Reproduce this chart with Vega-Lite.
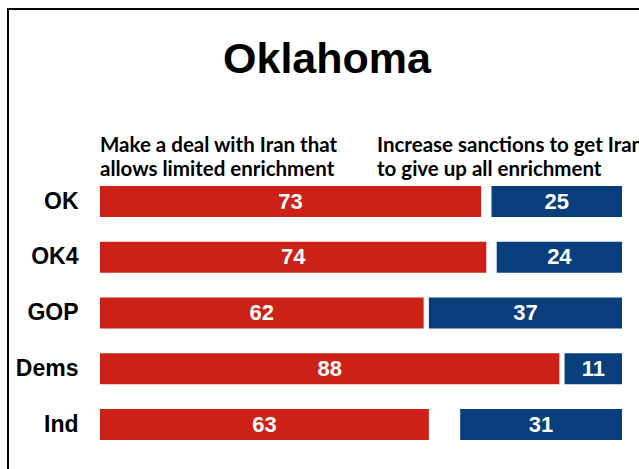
{
  "$schema": "https://vega.github.io/schema/vega-lite/v6.json",
  "width": 638,
  "height": 470,
  "autosize": {"type": "none"},
  "padding": {"left": 8, "top": 9, "right": 0, "bottom": 0},
  "background": "white",
  "config": {"view": {"stroke": "black", "strokeWidth": 2}},
  "title": {
    "text": "Oklahoma",
    "font": "Liberation Sans",
    "fontSize": 43,
    "fontWeight": "bold",
    "color": "black",
    "anchor": "middle",
    "baseline": "alphabetic",
    "offset": 0,
    "dy": 107
  },
  "datasets": {
    "bars": [
      {"group": "OK", "deal": 73, "sanctions": 25},
      {"group": "OK4", "deal": 74, "sanctions": 24},
      {"group": "GOP", "deal": 62, "sanctions": 37},
      {"group": "Dems", "deal": 88, "sanctions": 11},
      {"group": "Ind", "deal": 63, "sanctions": 31}
    ],
    "headers": [
      {"group": "hdr", "side": "deal", "text": "Make a deal with Iran that\nallows limited enrichment"},
      {"group": "hdr", "side": "sanctions", "text": "Increase sanctions to get Iran\nto give up all enrichment"}
    ]
  },
  "encoding": {
    "y": {
      "field": "group",
      "type": "nominal",
      "title": null,
      "scale": {
        "domain": ["hdr", "OK", "OK4", "GOP", "Dems", "Ind"],
        "range": [108.9, 443.4],
        "paddingInner": 0.444,
        "paddingOuter": 0.222
      },
      "axis": {
        "orient": "left",
        "offset": -70,
        "domain": false,
        "ticks": false,
        "tickSize": 0,
        "grid": false,
        "labelPadding": 0,
        "labelFont": "Liberation Sans",
        "labelFontSize": 23,
        "labelFontWeight": "bold",
        "labelColor": "black",
        "labelExpr": "datum.value == 'hdr' ? '' : datum.label"
      }
    }
  },
  "layer": [
    {
      "data": {"name": "bars"},
      "mark": {"type": "bar", "color": "#CB2116"},
      "encoding": {
        "x": {"field": "deal", "type": "quantitative", "axis": null, "scale": {"domain": [0, 100], "range": [92, 614]}}
      }
    },
    {
      "data": {"name": "bars"},
      "mark": {"type": "bar", "color": "#073E7B"},
      "encoding": {
        "x": {"field": "sanctions", "type": "quantitative", "axis": null, "scale": {"domain": [0, 100], "range": [92, 614], "reverse": true}}
      }
    },
    {
      "data": {"name": "bars"},
      "mark": {"type": "text", "color": "white", "font": "Liberation Sans", "fontSize": 22, "fontWeight": "bold", "align": "center", "baseline": "middle"},
      "encoding": {
        "x": {"field": "deal", "type": "quantitative", "axis": null, "scale": {"domain": [0, 200], "range": [92, 614]}},
        "text": {"field": "deal", "type": "quantitative"}
      }
    },
    {
      "data": {"name": "bars"},
      "mark": {"type": "text", "color": "white", "font": "Liberation Sans", "fontSize": 22, "fontWeight": "bold", "align": "center", "baseline": "middle"},
      "encoding": {
        "x": {"field": "sanctions", "type": "quantitative", "axis": null, "scale": {"domain": [0, 200], "range": [92, 614], "reverse": true}},
        "text": {"field": "sanctions", "type": "quantitative"}
      }
    },
    {
      "data": {"name": "headers"},
      "mark": {"type": "text", "color": "black", "font": "Lato", "fontSize": 20.5, "fontWeight": "bold", "align": "left", "baseline": "alphabetic", "dy": 6, "lineBreak": "\n", "lineHeight": 24.5},
      "encoding": {
        "x": {"field": "side", "type": "nominal", "axis": null, "scale": {"type": "point", "domain": ["deal", "sanctions"], "range": [92, 369], "padding": 0}},
        "text": {"field": "text", "type": "nominal"}
      }
    }
  ],
  "resolve": {"scale": {"x": "independent"}}
}
